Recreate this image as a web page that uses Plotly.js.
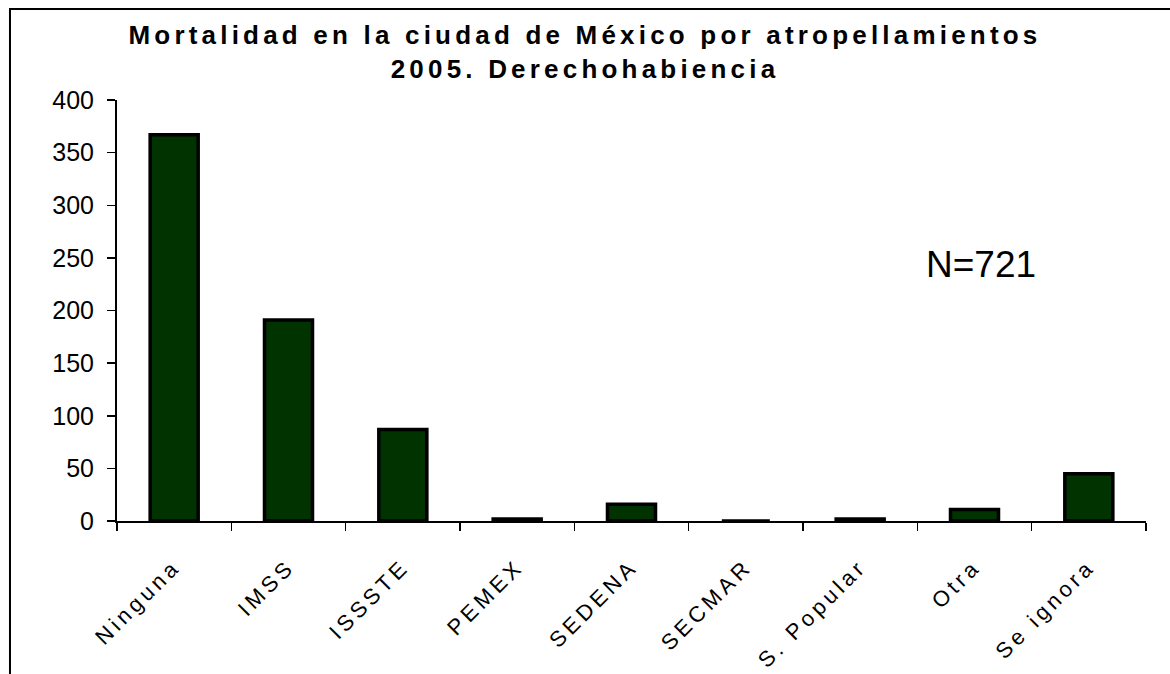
<!DOCTYPE html>
<html>
<head>
<meta charset="utf-8">
<script src="https://cdn.plot.ly/plotly-3.0.1.min.js"></script>
<style>
  html, body { margin: 0; padding: 0; background: #ffffff; }
  #chart { width: 1170px; height: 674px; }
  .gtitle { letter-spacing: 4.2px; }
  .xtick text { letter-spacing: 4px; }
</style>
</head>
<body>
<div id="chart"></div>
<script>
const categories = ["Ninguna", "IMSS", "ISSSTE", "PEMEX", "SEDENA", "SECMAR", "S. Popular", "Otra", "Se ignora"];
const deaths = [367, 191, 87, 2, 16, 0, 2, 11, 45];
const yTickValues = [0, 50, 100, 150, 200, 250, 300, 350, 400];
const titleText = "Mortalidad en la ciudad de México por atropellamientos<br>2005. Derechohabiencia";
const noteText = "N=721";

const font = "Liberation Sans, Arial, sans-serif";

const trace = {
  type: "bar",
  x: categories,
  y: deaths,
  width: 0.42,
  marker: { color: "#003300", line: { color: "#000000", width: 3.5 } },
  hoverinfo: "x+y"
};

const layout = {
  width: 1170,
  height: 674,
  margin: { l: 117, r: 24, t: 100, b: 153, pad: 0 },
  paper_bgcolor: "#ffffff",
  plot_bgcolor: "#ffffff",
  showlegend: false,
  font: { family: font, color: "#000000" },
  title: {
    text: titleText,
    font: { family: font, size: 26, weight: "bold", color: "#000000" },
    x: 0.5,
    xref: "container",
    xanchor: "center",
    y: 0.934,
    yref: "container",
    yanchor: "top"
  },
  xaxis: {
    type: "category",
    range: [-0.5, 8.5],
    showline: true,
    linecolor: "#000000",
    linewidth: 2,
    ticks: "outside",
    tickson: "boundaries",
    ticklen: 8,
    tickwidth: 1.5,
    tickcolor: "#000000",
    tickangle: -45,
    ticklabelstandoff: 22,
    tickfont: { family: font, size: 22, color: "#000000" },
    showgrid: false,
    zeroline: false,
    fixedrange: true
  },
  yaxis: {
    range: [0, 400],
    tickvals: yTickValues,
    showline: true,
    linecolor: "#000000",
    linewidth: 2,
    ticks: "outside",
    ticklen: 8,
    tickwidth: 1.5,
    tickcolor: "#000000",
    ticklabelstandoff: 8,
    tickfont: { family: font, size: 25, color: "#000000" },
    showgrid: false,
    zeroline: false,
    fixedrange: true
  },
  annotations: [{
    text: noteText,
    xref: "paper", yref: "paper",
    x: 0.84, y: 0.61,
    xanchor: "center", yanchor: "middle",
    showarrow: false,
    font: { family: font, size: 37, color: "#000000" }
  }],
  shapes: [{
    type: "rect",
    xref: "paper", yref: "paper",
    x0: -0.104, x1: 1.2,
    y0: -0.5, y1: 1.216,
    line: { color: "#000000", width: 2 },
    fillcolor: "rgba(0,0,0,0)",
    layer: "above"
  }]
};

Plotly.newPlot("chart", [trace], layout, { displayModeBar: false, staticPlot: true });
</script>
</body>
</html>
